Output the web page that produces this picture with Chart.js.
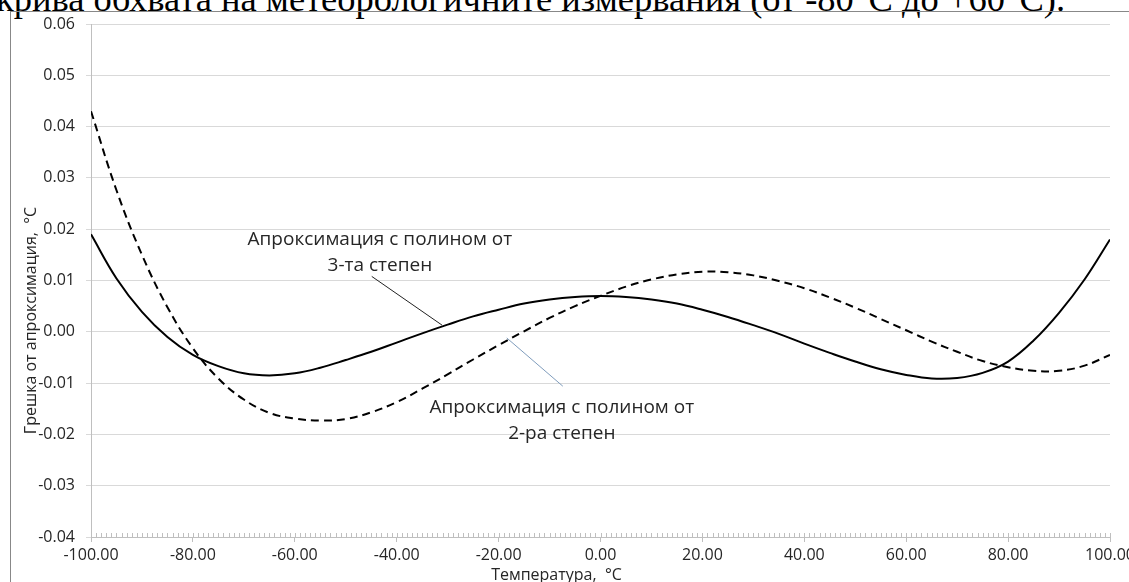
<!DOCTYPE html>
<html>
<head>
<meta charset="utf-8">
<script src="https://cdn.jsdelivr.net/npm/chart.js@4.4.1/dist/chart.umd.min.js"></script>
<style>
  html, body { margin: 0; padding: 0; background: #fff; overflow: hidden; }
  #wrap { position: relative; width: 1129px; height: 582px; overflow: hidden; }
  #caption {
    position: absolute; left: -4px; top: -20px;
    font: 36.5px "Liberation Serif", serif; line-height: 37px;
    white-space: nowrap; color: #000;
  }
  #frame {
    position: absolute; left: 10px; top: 11px; width: 1200px; height: 700px;
    border: 1px solid #888; box-sizing: border-box;
  }
  #chart { position: absolute; left: 0; top: 0; }
</style>
</head>
<body>
<div id="wrap">
  <div id="caption">крива обхвата на метеорологичните измервания (от -80°C до +60°C).</div>
  <div id="frame"></div>
  <canvas id="chart" width="1129" height="582"></canvas>
</div>
<script>
// temperature, °C
const temperature = [
  -100, -95, -90, -85, -80, -75, -70, -65, -60, -55, -50, -45, -40, -35, -30, -25, -20, -15, -10, -5,
  0, 5, 10, 15, 20, 25, 30, 35, 40, 45, 50, 55, 60, 65, 70, 75, 80, 85, 90, 95, 100,
];

// error of the 3rd degree polynomial fit, °C
const cubicError = [
  0.0190, 0.0104, 0.0039, -0.0010, -0.0045, -0.0067, -0.0081, -0.0085, -0.0081, -0.0070,
  -0.0055, -0.0039, -0.0021, -0.0003, 0.0014, 0.0030, 0.0043, 0.0055, 0.0063, 0.0068,
  0.0070, 0.0068, 0.0063, 0.0055, 0.0043, 0.0029, 0.0013, -0.0004, -0.0023, -0.0041,
  -0.0058, -0.0073, -0.0084, -0.0091, -0.0090, -0.0080, -0.0058, -0.0017, 0.0037, 0.0102,
  0.0180,
];

// error of the 2nd degree polynomial fit, °C
const quadraticError = [
  0.0430, 0.0276, 0.0150, 0.0048, -0.0032, -0.0091, -0.0132, -0.0158, -0.0169, -0.0173,
  -0.0170, -0.0157, -0.0137, -0.0111, -0.0083, -0.0054, -0.0026, 0.0001, 0.0027, 0.0050,
  0.0070, 0.0088, 0.0102, 0.0112, 0.0117, 0.0116, 0.0110, 0.0099, 0.0085, 0.0067,
  0.0047, 0.0025, 0.0003, -0.0019, -0.0039, -0.0057, -0.0069, -0.0076, -0.0076, -0.0066,
  -0.0045,
];

const xTickValues = [-100, -80, -60, -40, -20, 0, 20, 40, 60, 80, 100];
const yTickValues = [-0.04, -0.03, -0.02, -0.01, 0, 0.01, 0.02, 0.03, 0.04, 0.05, 0.06];

const xTitle = "Температура,  °C";
const yTitle = "Грешка от апроксимация,  °C";
const cubicLabel = ["Апроксимация с полином от", "3-та степен"];
const quadraticLabel = ["Апроксимация с полином от", "2-ра степен"];

const textColor = "#262626";
const gridColor = "#d9d9d9";
const axisColor = "#bfbfbf";

Chart.defaults.font.family = '"Open Sans", sans-serif';
Chart.defaults.font.size = 16;
Chart.defaults.color = textColor;

// small ticks every degree on the temperature axis
const minorTicks = {
  id: "minorTicks",
  afterDraw(chart) {
    const { ctx, chartArea, scales } = chart;
    const x = scales.x;
    ctx.save();
    ctx.strokeStyle = axisColor;
    ctx.lineWidth = 1;
    ctx.beginPath();
    for (let v = x.min; v <= x.max; v += 1) {
      const px = Math.round(x.getPixelForValue(v)) + 0.5;
      ctx.moveTo(px, chartArea.bottom);
      ctx.lineTo(px, chartArea.bottom - 4);
    }
    ctx.stroke();
    ctx.restore();
  },
};

// axis titles, placed the way Excel put them
const axisTitles = {
  id: "axisTitles",
  afterDraw(chart) {
    const { ctx, chartArea } = chart;
    ctx.save();
    ctx.fillStyle = textColor;
    ctx.font = '16px "Open Sans", sans-serif';
    ctx.textAlign = "center";
    ctx.textBaseline = "middle";
    ctx.fillText(xTitle, (chartArea.left + chartArea.right) / 2 - 44, chartArea.bottom + 38);
    ctx.translate(31, (chartArea.top + chartArea.bottom) / 2 + 40);
    ctx.rotate(-Math.PI / 2);
    ctx.fillText(yTitle, 0, 0);
    ctx.restore();
  },
};

// text boxes with leader lines pointing to the curves
const callouts = {
  id: "callouts",
  afterDraw(chart, args, opts) {
    const { ctx, scales } = chart;
    const { x, y } = scales;
    ctx.save();
    ctx.font = '19px "Open Sans", sans-serif';
    ctx.textAlign = "center";
    ctx.textBaseline = "middle";
    opts.items.forEach((item) => {
      ctx.strokeStyle = item.lineColor;
      ctx.lineWidth = 1;
      ctx.beginPath();
      ctx.moveTo(x.getPixelForValue(item.from[0]), y.getPixelForValue(item.from[1]));
      ctx.lineTo(x.getPixelForValue(item.to[0]), y.getPixelForValue(item.to[1]));
      ctx.stroke();
      ctx.fillStyle = textColor;
      const cx = x.getPixelForValue(item.at[0]);
      const cy = y.getPixelForValue(item.at[1]);
      item.lines.forEach((line, i) => ctx.fillText(line, cx, cy + i * 26));
    });
    ctx.restore();
  },
};

new Chart(document.getElementById("chart"), {
  type: "line",
  data: {
    datasets: [
      {
        label: "3-та степен",
        data: temperature.map((t, i) => ({ x: t, y: cubicError[i] })),
        borderColor: "#000000",
        borderWidth: 2,
        pointRadius: 0,
        tension: 0.4,
      },
      {
        label: "2-ра степен",
        data: temperature.map((t, i) => ({ x: t, y: quadraticError[i] })),
        borderColor: "#000000",
        borderWidth: 2,
        borderDash: [8, 5],
        pointRadius: 0,
        tension: 0.4,
      },
    ],
  },
  options: {
    responsive: false,
    animation: false,
    devicePixelRatio: 1,
    layout: { padding: { top: 24, right: 19, left: 0, bottom: 0 } },
    plugins: {
      legend: { display: false },
      tooltip: { enabled: false },
      callouts: {
        items: [
          { lines: cubicLabel, at: [-43.3, 0.0180], from: [-44.9, 0.0108], to: [-31.1, 0.0013], lineColor: "#222222" },
          { lines: quadraticLabel, at: [-7.6, -0.0147], from: [-18.4, -0.0012], to: [-7.4, -0.0106], lineColor: "#7f9cbc" },
        ],
      },
    },
    scales: {
      x: {
        type: "linear",
        min: -100,
        max: 100,
        afterBuildTicks: (scale) => {
          scale.ticks = xTickValues.map((v) => ({ value: v }));
        },
        afterFit: (scale) => {
          scale.height = 45;
          scale.paddingLeft = 0;
          scale.paddingRight = 0;
        },
        ticks: {
          maxRotation: 0,
          autoSkip: false,
          padding: 4,
          callback: (v) => v.toFixed(2),
        },
        grid: { drawOnChartArea: false, tickLength: 5, color: axisColor },
        border: { color: axisColor },
      },
      y: {
        min: -0.04,
        max: 0.06,
        afterBuildTicks: (scale) => {
          scale.ticks = yTickValues.map((v) => ({ value: v }));
        },
        afterFit: (scale) => {
          scale.width = 91;
          scale.paddingTop = 0;
          scale.paddingBottom = 0;
        },
        ticks: {
          padding: 11,
          callback: (v) => v.toFixed(2),
        },
        grid: { color: gridColor, tickLength: 5 },
        border: { color: axisColor },
      },
    },
  },
  plugins: [minorTicks, axisTitles, callouts],
});
</script>
</body>
</html>
